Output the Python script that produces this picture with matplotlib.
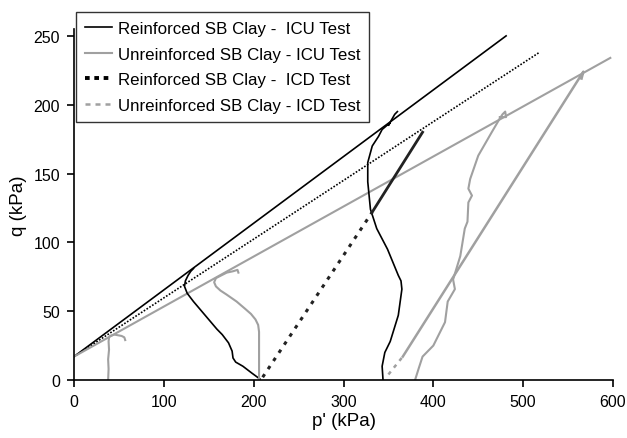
import matplotlib
matplotlib.use("Agg")
import matplotlib.pyplot as plt
from matplotlib.lines import Line2D

plt.rcParams['font.family'] = ['Liberation Sans', 'DejaVu Sans']

# Failure envelopes (p', q)
csl_reinf_icu_p = [0, 481]
csl_reinf_icu_q = [17, 250]
csl_reinf_icd_p = [0, 518]
csl_reinf_icd_q = [17, 238]
csl_unreinf_p = [0, 597]
csl_unreinf_q = [17, 234]

# Reinforced ICU stress paths
r_icu1_p = [207, 198, 188, 180, 177, 176, 172, 165, 159, 146, 133, 126, 123, 124, 127, 130, 133]
r_icu1_q = [0.7, 5, 10, 13, 16, 21, 27, 33, 37, 47, 57, 63, 68, 72, 76, 79, 81]
r_icu2_p = [344, 343, 346, 352, 361, 365, 364, 361, 349, 337, 330, 327, 327, 332, 339, 343, 352, 350, 357, 360]
r_icu2_q = [0, 10, 20, 28, 47, 66, 72, 76, 95, 110, 124, 144, 158, 170, 177, 182, 187, 185, 193, 195]

# Unreinforced ICU stress paths
u_icu0_p = [38, 38.5, 38, 39, 38.5, 39, 40, 45, 53, 56, 57]
u_icu0_q = [0, 8, 15, 22, 28, 31, 32, 33, 32, 31, 29]
u_icu1_p = [206, 206, 206, 205, 202, 197, 190, 181, 170, 163, 158, 156, 158, 164, 170, 177, 182, 183]
u_icu1_q = [0.7, 20, 35, 40, 44, 48, 52, 57, 62, 65, 68, 71, 74, 76, 78, 79, 80, 78]
u_icu2_p = [380, 384, 388, 400, 413, 416, 424, 422, 430, 435, 438, 439, 443, 439, 441, 450, 465, 474, 477, 480, 481, 474]
u_icu2_q = [0.7, 9, 17, 25, 42, 57, 66, 73, 90, 110, 115, 129, 134, 139, 146, 163, 180, 190, 193, 195, 191, 191]

# ICD stress paths
r_icd_dot_p = [210, 332]
r_icd_dot_q = [2, 122]
r_icd_sol_p = [332, 388]
r_icd_sol_q = [122, 180]
u_icd_dash_p = [350, 366]
u_icd_dash_q = [4, 17]
u_icd_sol_p = [366, 567, 565]
u_icd_sol_q = [17, 224, 219]

legend_labels = ["Reinforced SB Clay -  ICU Test",
                 "Unreinforced SB Clay - ICU Test",
                 "Reinforced SB Clay -  ICD Test",
                 "Unreinforced SB Clay - ICD Test"]

GRAY = '#a0a0a0'

fig = plt.figure(figsize=(6.27, 4.39), dpi=100)
ax = fig.add_axes([74/627, 1 - 381/439, (613-74)/627, (381-30)/439])

ax.plot(csl_reinf_icu_p, csl_reinf_icu_q, color='black', lw=1.2)
ax.plot(csl_reinf_icd_p, csl_reinf_icd_q, color='black', lw=1.2, linestyle=(0, (1, 1)))
ax.plot(csl_unreinf_p, csl_unreinf_q, color=GRAY, lw=1.5)

ax.plot(r_icu1_p, r_icu1_q, color='black', lw=1.2)
ax.plot(r_icu2_p, r_icu2_q, color='black', lw=1.2)
ax.plot(u_icu0_p, u_icu0_q, color=GRAY, lw=1.5)
ax.plot(u_icu1_p, u_icu1_q, color=GRAY, lw=1.5)
ax.plot(u_icu2_p, u_icu2_q, color=GRAY, lw=1.5)

ax.plot(r_icd_dot_p, r_icd_dot_q, color='#222222', lw=2.2, linestyle=(0, (1.2, 2.0)))
ax.plot(r_icd_sol_p, r_icd_sol_q, color='#222222', lw=2.0)
ax.plot(u_icd_dash_p, u_icd_dash_q, color=GRAY, lw=1.8, linestyle=(0, (1.5, 2.0)))
ax.plot(u_icd_sol_p, u_icd_sol_q, color=GRAY, lw=1.8)

ax.set_xlim(0, 600)
ax.set_ylim(0, 255)
ax.set_xticks(range(0, 601, 100))
ax.set_yticks(range(0, 251, 50))
for s in ['top', 'right']:
    ax.spines[s].set_visible(False)
for s in ['left', 'bottom']:
    ax.spines[s].set_linewidth(1.2)
ax.tick_params(direction='out', length=5, width=1.2, labelsize=11.5, pad=5)
ax.set_xlabel("p' (kPa)", fontsize=13.5, labelpad=2)
ax.set_ylabel("q (kPa)", fontsize=13.5, labelpad=5)

handles = [Line2D([], [], color='black', lw=1.2),
           Line2D([], [], color=GRAY, lw=1.5),
           Line2D([], [], color='black', lw=2.8, linestyle=(0, (1.2, 1.2))),
           Line2D([], [], color=GRAY, lw=1.8, linestyle=(0, (2, 2)))]
leg = fig.legend(handles, legend_labels, loc='upper left',
                 bbox_to_anchor=(76/627, 1 - 13/439), fontsize=12.2,
                 frameon=True, fancybox=False, edgecolor='black',
                 handlelength=1.6, handletextpad=0.3, labelspacing=0.62,
                 borderpad=0.55, borderaxespad=0)
leg.get_frame().set_linewidth(1.0)
leg.set_zorder(10)

fig.savefig("out.png", dpi=100)
